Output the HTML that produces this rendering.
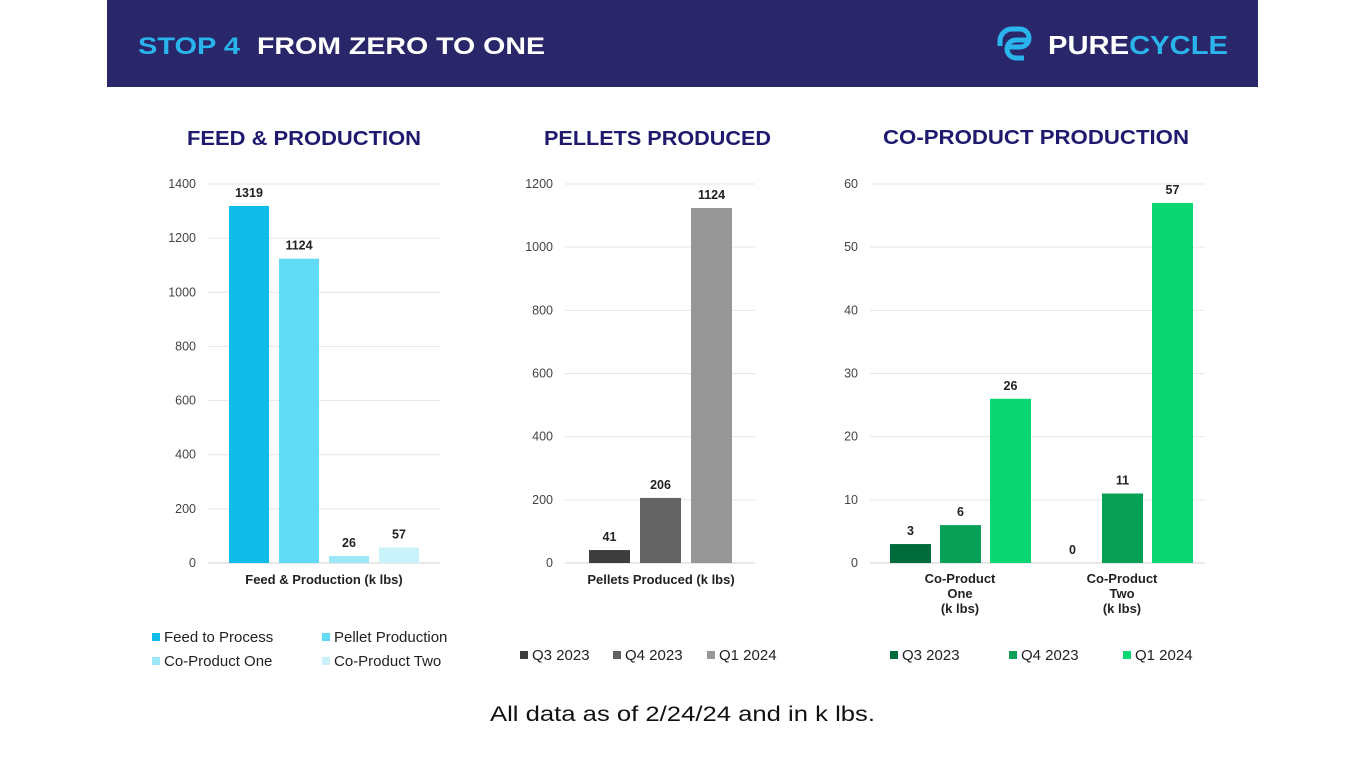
<!DOCTYPE html>
<html><head><meta charset="utf-8"><style>
body{margin:0;width:1365px;height:768px;background:#fff;overflow:hidden;font-family:"Liberation Sans",sans-serif}
svg{position:absolute;left:0;top:0}
</style></head><body>
<svg id="s" width="1365" height="768">
<rect x="107" y="0" width="1151" height="87" fill="#29266a"/>
<text x="138" y="54" font-size="24" font-weight="bold" fill="#2ab4ec" textLength="102" lengthAdjust="spacingAndGlyphs">STOP 4</text>
<text x="257" y="54" font-size="24" font-weight="bold" fill="#fff" textLength="288" lengthAdjust="spacingAndGlyphs">FROM ZERO TO ONE</text>
<g>
<path d="M1012 29 h8 a9 9 0 0 1 0 18 h-12 M1012 29 a12 12 0 0 0 -12 12 v5 M1024 58 h-8 a9 9 0 0 1 0 -18 h12" stroke="#2ab4ec" stroke-width="5" fill="none"/>
<text x="1048" y="54" font-size="26" font-weight="bold" fill="#fff" textLength="180" lengthAdjust="spacingAndGlyphs">PURE<tspan fill="#2ab4ec">CYCLE</tspan></text>
</g>
<text x="187" y="145" font-size="20" font-weight="bold" fill="#1f1a6e" textLength="234" lengthAdjust="spacingAndGlyphs">FEED &amp; PRODUCTION</text>
<text x="544" y="145" font-size="20" font-weight="bold" fill="#1f1a6e" textLength="227" lengthAdjust="spacingAndGlyphs">PELLETS PRODUCED</text>
<text x="883" y="144" font-size="20" font-weight="bold" fill="#1f1a6e" textLength="306" lengthAdjust="spacingAndGlyphs">CO-PRODUCT PRODUCTION</text>
<text x="490" y="721" font-size="21" fill="#111" textLength="385" lengthAdjust="spacingAndGlyphs">All data as of 2/24/24 and in k lbs.</text>
<g id="c1"></g><g id="c2"></g><g id="c3"></g>
</svg>
<script>
const feedCats=["Feed to Process","Pellet Production","Co-Product One","Co-Product Two"];
const feedVals=[1319,1124,26,57];
const feedTicks=[0,200,400,600,800,1000,1200,1400];
const pelletCats=["Q3  2023","Q4  2023","Q1  2024"];
const pelletVals=[41,206,1124];
const pelletTicks=[0,200,400,600,800,1000,1200];
const coGroups=["Co-Product One","Co-Product Two"];
const coSeries=["Q3  2023","Q4 2023","Q1 2024"];
const coQ3=[3,0];
const coQ4=[6,11];
const coQ1=[26,57];
const coTicks=[0,10,20,30,40,50,60];

const NS="http://www.w3.org/2000/svg";
function mk(g,tag,a,txt){const e=document.createElementNS(NS,tag);for(const k in a)e.setAttribute(k,a[k]);if(txt!==undefined)e.textContent=txt;g.appendChild(e);return e;}
function axis(g,x0,x1,ticks,max){
  const y=v=>563-v/max*379;
  ticks.forEach(t=>{
    const l=mk(g,'line',{x1:x0,x2:x1,y1:y(t),y2:y(t),stroke:t===0?'#d0d0d0':'#e6e6e6'});
    
    
    const tx=mk(g,'text',{x:x0-12,y:y(t)+4,'font-size':12.5,fill:'#444','text-anchor':'end'},t);
    
    
  });
  return y;
}
function bar(g,x,w,v,y,c,name){
  const r=mk(g,'rect',{x:x,y:y(v),width:w,height:563-y(v),fill:c});
  
  
  const t=mk(g,'text',{x:x+w/2,y:y(v)-9,'font-size':12.5,'font-weight':'bold',fill:'#222','text-anchor':'middle'},v);
  
  
}
function legend(g,x,y,c,label){
  const r=mk(g,'rect',{x:x,y:y-8,width:8,height:8,fill:c});
  
  
  const t=mk(g,'text',{x:x+12,y:y+1,'font-size':15,fill:'#222'},label);
  
  
}
// chart 1
(function(){const g=document.getElementById('c1');const cols=['#0fbde8','#62dbf6','#9ce7f8','#c9f2fb'];
const y=axis(g,208,440,feedTicks,1400);
feedVals.forEach((v,i)=>bar(g,229+i*50,40,v,y,cols[i],'bar-feed-'+i));
const t=mk(g,'text',{x:324,y:584,'font-size':13,'font-weight':'bold',fill:'#222','text-anchor':'middle'},'Feed & Production (k lbs)');

const lp=[[152,641],[322,641],[152,665],[322,665]];
feedCats.forEach((c,i)=>legend(g,lp[i][0],lp[i][1],cols[i],c));})();
// chart 2
(function(){const g=document.getElementById('c2');const cols=['#3d3d3d','#636363','#979797'];
const y=axis(g,565,755,pelletTicks,1200);
pelletVals.forEach((v,i)=>bar(g,589+i*51,41,v,y,cols[i],'bar-pellets-'+i));
const t=mk(g,'text',{x:661,y:584,'font-size':13,'font-weight':'bold',fill:'#222','text-anchor':'middle'},'Pellets Produced (k lbs)');

const lx=[520,613,707];
pelletCats.forEach((c,i)=>legend(g,lx[i],659,cols[i],c));})();
// chart 3
(function(){const g=document.getElementById('c3');const cols=['#006b3a','#07a056','#0ad673'];
const y=axis(g,870,1205,coTicks,60);
const series=[coQ3,coQ4,coQ1];
coGroups.forEach((grp,gi)=>{
  series.forEach((s,si)=>bar(g,890+gi*162+si*50,41,s[gi],y,cols[si],'bar-coproduct-'+gi+'-'+si));
  const cx=960+gi*162;
  const parts=grp.split(' ');
  [parts[0],parts[1],'(k lbs)'].forEach((p,k)=>{const t=mk(g,'text',{x:cx,y:583+k*15,'font-size':13,'font-weight':'bold',fill:'#222','text-anchor':'middle'},p);
  });
});
const lx=[890,1009,1123];
coSeries.forEach((c,i)=>legend(g,lx[i],659,cols[i],c));})();
</script>
</body></html>
